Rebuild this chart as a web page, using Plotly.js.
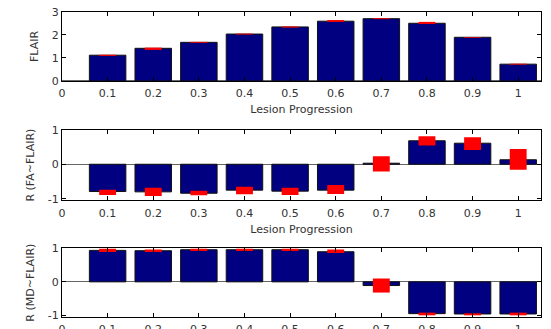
<!DOCTYPE html>
<html><head><meta charset="utf-8">
<script src="https://cdn.plot.ly/plotly-3.0.1.min.js"></script>
<style>html,body{margin:0;padding:0;background:#fff}#chart{width:551px;height:329px}</style>
</head><body><div id="chart"></div>
<script>
const progression = [0.1,0.2,0.3,0.4,0.5,0.6,0.7,0.8,0.9,1.0];
const flair   = [1.12,1.42,1.68,2.04,2.35,2.60,2.71,2.51,1.90,0.73];
const flairLo = [1.09,1.35,1.66,2.02,2.32,2.57,2.69,2.48,1.88,0.71];
const flairHi = [1.14,1.45,1.70,2.06,2.37,2.65,2.73,2.57,1.91,0.75];
const rFA     = [-0.79,-0.80,-0.84,-0.75,-0.78,-0.75,0.03,0.68,0.61,0.13];
const rFALo   = [-0.89,-0.92,-0.90,-0.87,-0.89,-0.86,-0.21,0.54,0.41,-0.16];
const rFAHi   = [-0.74,-0.68,-0.77,-0.65,-0.68,-0.60,0.23,0.81,0.78,0.44];
const rMD     = [0.94,0.93,0.96,0.96,0.96,0.90,-0.11,-0.95,-0.96,-0.96];
const rMDLo   = [0.89,0.89,0.92,0.92,0.92,0.86,-0.32,-1.00,-1.00,-1.00];
const rMDHi   = [1.00,0.97,1.00,1.00,1.00,0.97,0.10,-0.92,-0.94,-0.92];
const xTicks = [0,0.1,0.2,0.3,0.4,0.5,0.6,0.7,0.8,0.9,1];
const xTickText = ['0','0.1','0.2','0.3','0.4','0.5','0.6','0.7','0.8','0.9','1'];

const blue = '#000080', red = '#ff0000';
function panel(vals, lo, hi, xa, ya){
  return [
    {type:'bar', x:progression, y:vals, width:0.08, xaxis:xa, yaxis:ya,
     marker:{color:blue, line:{color:'#111', width:1}}, hoverinfo:'skip'},
    {type:'bar', x:progression, y:hi.map((h,i)=>h-lo[i]), base:lo, width:0.037, xaxis:xa, yaxis:ya,
     marker:{color:red, line:{width:0}}, hoverinfo:'skip'}
  ];
}
const data = [].concat(
  panel(flair, flairLo, flairHi, 'x', 'y'),
  panel(rFA, rFALo, rFAHi, 'x2', 'y2'),
  panel(rMD, rMDLo, rMDHi, 'x3', 'y3')
);
const font = {family:'DejaVu Sans, Verdana, sans-serif', size:11, color:'#333'};
function xax(anchor, title){
  return {anchor:anchor, domain:[0,1], range:[0,1.05], tickvals:xTicks, ticktext:xTickText,
    ticks:'inside', ticklen:4, tickcolor:'#000', showline:true, linecolor:'#000', linewidth:1,
    mirror:'ticks', showgrid:false, zeroline:false, tickfont:font, ticklabelstandoff:2,
    title: title ? {text:title, font:font, standoff:6} : undefined};
}
function yax(anchor, dom, range, ticks, title){
  return {anchor:anchor, domain:dom, range:range, tickvals:ticks, ticktext:ticks.map(String),
    ticks:'inside', ticklen:4, tickcolor:'#000', showline:true, linecolor:'#000', linewidth:1,
    mirror:'ticks', showgrid:false, zeroline:true, zerolinecolor:'#666', zerolinewidth:1,
    tickfont:font, title:{text:title, font:font, standoff:10}};
}
const layout = {
  width:551, height:329, margin:{l:62, r:10, t:12, b:12},
  paper_bgcolor:'#fff', plot_bgcolor:'#fff', showlegend:false, barmode:'overlay',
  font:font,
  xaxis: xax('y', 'Lesion Progression'),
  xaxis2: xax('y2', 'Lesion Progression'),
  xaxis3: xax('y3', null),
  yaxis: yax('x', [0.774,1], [0,3], [0,1,2,3], 'FLAIR'),
  yaxis2: yax('x2', [0.382,0.614], [-1.05,1], [-1,0,1], 'R (FA~FLAIR)'),
  yaxis3: yax('x3', [0,0.225], [-1.05,1], [-1,0,1], 'R (MD~FLAIR)')
};
Plotly.newPlot('chart', data, layout, {staticPlot:true, displayModeBar:false});
</script></body></html>
